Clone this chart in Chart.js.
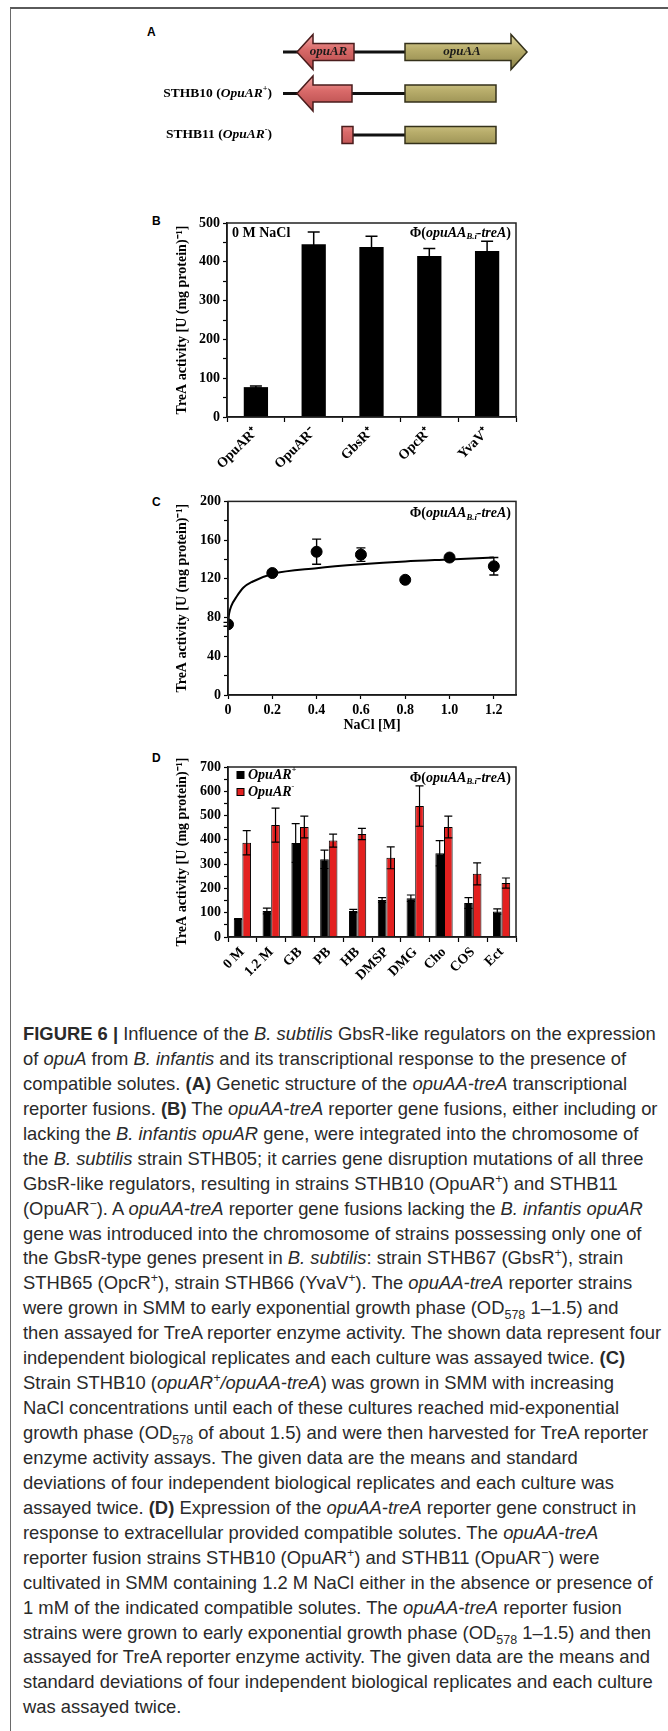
<!DOCTYPE html>
<html>
<head>
<meta charset="utf-8">
<script src="https://cdn.jsdelivr.net/npm/chart.js@4.4.0/dist/chart.umd.min.js"></script>
<style>
body { margin: 0; background: #fff; }
#page { position: relative; width: 668px; height: 1731px; overflow: hidden; background: #fff; }
#frame { position: absolute; left: 10px; top: 7px; right: 0; bottom: 0; border-top: 2px solid #5a5a5a; border-left: 1px solid #6a6a6a; }
.letter { position: absolute; font: bold 12px "Liberation Sans", Arial, sans-serif; line-height: 14px; color: #000; }
.box { position: absolute; }
#caption { position: absolute; left: 23px; top: 1022px; font: 18.4px "Liberation Sans", Arial, sans-serif; line-height: 24.93px; color: #2a2a2a; white-space: nowrap; }
#caption sup, #caption sub { font-size: 0.68em; line-height: 0; }
</style>
</head>
<body>
<div id="page">
  <div id="frame"></div>

  <div class="letter" style="left:147px;top:25px">A</div>
  <div class="letter" style="left:152px;top:214px">B</div>
  <div class="letter" style="left:152px;top:495px">C</div>
  <div class="letter" style="left:152px;top:751px">D</div>

  <div class="box" style="left:130px;top:20px"><canvas id="genes" width="410" height="150"></canvas></div>
  <div class="box" style="left:160px;top:205px"><canvas id="strains" width="370" height="285"></canvas></div>
  <div class="box" style="left:160px;top:490px"><canvas id="nacl" width="370" height="250"></canvas></div>
  <div class="box" style="left:160px;top:755px"><canvas id="solutes" width="370" height="245"></canvas></div>

  <div id="caption">
<b>FIGURE 6 |</b> Influence of the <i>B. subtilis</i> GbsR-like regulators on the expression<br>
of <i>opuA</i> from <i>B. infantis</i> and its transcriptional response to the presence of<br>
compatible solutes. <b>(A)</b> Genetic structure of the <i>opuAA-treA</i> transcriptional<br>
reporter fusions. <b>(B)</b> The <i>opuAA-treA</i> reporter gene fusions, either including or<br>
lacking the <i>B. infantis opuAR</i> gene, were integrated into the chromosome of<br>
the <i>B. subtilis</i> strain STHB05; it carries gene disruption mutations of all three<br>
GbsR-like regulators, resulting in strains STHB10 (OpuAR<sup>+</sup>) and STHB11<br>
(OpuAR<sup>−</sup>). A <i>opuAA-treA</i> reporter gene fusions lacking the <i>B. infantis opuAR</i><br>
gene was introduced into the chromosome of strains possessing only one of<br>
the GbsR-type genes present in <i>B. subtilis</i>: strain STHB67 (GbsR<sup>+</sup>), strain<br>
STHB65 (OpcR<sup>+</sup>), strain STHB66 (YvaV<sup>+</sup>). The <i>opuAA-treA</i> reporter strains<br>
were grown in SMM to early exponential growth phase (OD<sub>578</sub> 1–1.5) and<br>
then assayed for TreA reporter enzyme activity. The shown data represent four<br>
independent biological replicates and each culture was assayed twice. <b>(C)</b><br>
Strain STHB10 (<i>opuAR<sup>+</sup>/opuAA-treA</i>) was grown in SMM with increasing<br>
NaCl concentrations until each of these cultures reached mid-exponential<br>
growth phase (OD<sub>578</sub> of about 1.5) and were then harvested for TreA reporter<br>
enzyme activity assays. The given data are the means and standard<br>
deviations of four independent biological replicates and each culture was<br>
assayed twice. <b>(D)</b> Expression of the <i>opuAA-treA</i> reporter gene construct in<br>
response to extracellular provided compatible solutes. The <i>opuAA-treA</i><br>
reporter fusion strains STHB10 (OpuAR<sup>+</sup>) and STHB11 (OpuAR<sup>−</sup>) were<br>
cultivated in SMM containing 1.2 M NaCl either in the absence or presence of<br>
1 mM of the indicated compatible solutes. The <i>opuAA-treA</i> reporter fusion<br>
strains were grown to early exponential growth phase (OD<sub>578</sub> 1–1.5) and then<br>
assayed for TreA reporter enzyme activity. The given data are the means and<br>
standard deviations of four independent biological replicates and each culture<br>
was assayed twice.
  </div>
</div>

<script>
// panel A : gene map (arbitrary bp units)
const geneRows = ['wt', 'STHB10', 'STHB11'];
const rowNames = ['', 'STHB10', 'STHB11'];
const rowSigns = ['', '+', '-'];
const backboneSpan = [[0, 1220], [0, 1220], [700, 1220]];
const opuARspan = [[140, 710], [140, 690], [590, 700]];
const opuAAspan = [[1220, 2440], [1220, 2130], [1220, 2130]];
const opuARhead = [true, true, false];
const opuAAhead = [true, false, false];
const showGeneName = [true, false, false];

// panel B
const strainLabels = ['OpuAR⁺', 'OpuAR⁻', 'GbsR⁺', 'OpcR⁺', 'YvaV⁺'];
const strainActivity = [77, 445, 438, 415, 428];
const strainError = [3, 32, 28, 19, 25];

// panel C
const naclTicks = [0, 0.2, 0.4, 0.6, 0.8, 1.0, 1.2];
const naclConc = [0, 0.2, 0.4, 0.6, 0.8, 1.0, 1.2];
const naclActivity = [73, 126, 148, 145, 119, 142, 133];
const naclError = [2, 2, 13, 7, 1, 3, 9];
const fitConc = [0, 0.005, 0.015, 0.04, 0.07, 0.11, 0.2, 0.4, 0.6, 0.8, 1.0, 1.2];
const fitActivity = [73, 84, 92, 102, 111, 117, 125, 131, 135, 138, 140, 142];

// panel D
const soluteLabels = ['0 M', '1.2 M', 'GB', 'PB', 'HB', 'DMSP', 'DMG', 'Cho', 'COS', 'Ect'];
const plusActivity = [74, 107, 387, 320, 107, 152, 160, 345, 140, 105];
const plusError = [2, 12, 80, 38, 7, 10, 13, 52, 22, 11];
const minusActivity = [388, 461, 453, 397, 424, 326, 539, 453, 260, 222];
const minusError = [50, 70, 45, 27, 23, 45, 83, 45, 45, 21];

const SERIF = '"Liberation Serif", "Times New Roman", serif';
const yTitle = 'TreA activity [U (mg protein)⁻¹]';

// mixed bold / italic / sub / sup text
function richFont(p, size) {
    let s = (p.sub || p.sup) ? size * 0.62 : size;
    return (p.it ? 'italic ' : '') + 'bold ' + s + 'px ' + SERIF;
}
function drawRich(ctx, parts, x, y, size, align) {
    let total = 0;
    parts.forEach(p => {
        ctx.font = richFont(p, size);
        p.w = ctx.measureText(p.t).width;
        total += p.w;
    });
    let cx = align === 'right' ? x - total : x;
    ctx.textBaseline = 'middle';
    ctx.textAlign = 'left';
    parts.forEach(p => {
        ctx.font = richFont(p, size);
        let dy = p.sub ? size * 0.3 : (p.sup ? -size * 0.35 : 0);
        ctx.fillText(p.t, cx, y + dy);
        cx += p.w;
    });
}
const phiParts = () => [
    { t: 'Φ(' }, { t: 'opuAA', it: 1 }, { t: 'B.i', it: 1, sub: 1 }, { t: '-treA', it: 1 }, { t: ')' }
];

// frame around plot area
const framePlugin = {
    id: 'framePlugin',
    afterDraw(chart, args, opt) {
        if (!opt.show) return;
        const { ctx, chartArea: a } = chart;
        ctx.save();
        ctx.strokeStyle = '#222';
        ctx.lineWidth = 1.5;
        ctx.strokeRect(a.left, a.top, a.right - a.left, a.bottom - a.top);
        ctx.restore();
    }
};

// error bars, read from dataset.errors
const errorBars = {
    id: 'errorBars',
    afterDatasetsDraw(chart) {
        const ctx = chart.ctx;
        const yScale = chart.scales.y;
        chart.data.datasets.forEach((ds, di) => {
            if (!ds.errors) return;
            const meta = chart.getDatasetMeta(di);
            meta.data.forEach((el, i) => {
                const d = ds.data[i];
                const v = typeof d === 'object' ? d.y : d;
                const e = ds.errors[i];
                const x = el.x;
                const y1 = yScale.getPixelForValue(v + e);
                const y2 = yScale.getPixelForValue(v - e);
                const w = ds.capWidth / 2;
                ctx.save();
                ctx.strokeStyle = '#000';
                ctx.lineWidth = ds.errWidth || 1.3;
                ctx.beginPath();
                ctx.moveTo(x, y1); ctx.lineTo(x, y2);
                ctx.moveTo(x - w, y1); ctx.lineTo(x + w, y1);
                ctx.moveTo(x - w, y2); ctx.lineTo(x + w, y2);
                ctx.stroke();
                ctx.restore();
            });
        });
    }
};

// texts inside plot corners and legend
const cornerText = {
    id: 'cornerText',
    afterDraw(chart, args, opt) {
        if (!opt.show) return;
        const { ctx, chartArea: a } = chart;
        ctx.save();
        ctx.fillStyle = '#000';
        drawRich(ctx, phiParts(), a.right - 5, a.top + opt.dy, 14, 'right');
        if (opt.leftText) {
            drawRich(ctx, [{ t: opt.leftText }], a.left + 5, a.top + opt.dy, 14, 'left');
        }
        if (opt.legend) {
            chart.data.datasets.forEach((ds, i) => {
                const y = a.top + 8 + i * 17;
                ctx.fillStyle = ds.backgroundColor;
                ctx.fillRect(a.left + 9, y - 3.5, 7, 7);
                ctx.strokeStyle = '#000';
                ctx.lineWidth = 1;
                ctx.strokeRect(a.left + 9, y - 3.5, 7, 7);
                ctx.fillStyle = '#000';
                drawRich(ctx, [{ t: 'OpuAR', it: 1 }, { t: ds.sign, it: 1, sup: 1 }], a.left + 20, y, 14, 'left');
            });
        }
        ctx.restore();
    }
};

// gene arrows for panel A
function genePath(ctx, L, R, y, dir, head) {
    const bh = 8.5, hh = 17.5, hl = 16;
    ctx.beginPath();
    if (head && dir > 0) {
        ctx.moveTo(L, y - bh); ctx.lineTo(R - hl, y - bh); ctx.lineTo(R - hl, y - hh);
        ctx.lineTo(R, y); ctx.lineTo(R - hl, y + hh); ctx.lineTo(R - hl, y + bh); ctx.lineTo(L, y + bh);
    } else if (head && dir < 0) {
        ctx.moveTo(R, y - bh); ctx.lineTo(L + hl, y - bh); ctx.lineTo(L + hl, y - hh);
        ctx.lineTo(L, y); ctx.lineTo(L + hl, y + hh); ctx.lineTo(L + hl, y + bh); ctx.lineTo(R, y + bh);
    } else {
        ctx.rect(L, y - bh, R - L, bh * 2);
    }
    ctx.closePath();
}
const genePlugin = {
    id: 'genePlugin',
    afterDatasetsDraw(chart, args, opt) {
        if (!opt.show) return;
        const ctx = chart.ctx;
        chart.data.datasets.forEach((ds, di) => {
            if (!ds.geneDir) return;
            chart.getDatasetMeta(di).data.forEach((el, i) => {
                const L = Math.min(el.x, el.base), R = Math.max(el.x, el.base), y = el.y;
                const g = ctx.createLinearGradient(0, y - 17, 0, y + 17);
                g.addColorStop(0, ds.colors[0]);
                g.addColorStop(0.42, ds.colors[1]);
                g.addColorStop(1, ds.colors[2]);
                ctx.save();
                genePath(ctx, L, R, y, ds.geneDir, ds.heads[i]);
                ctx.fillStyle = g;
                ctx.fill();
                ctx.strokeStyle = ds.edge;
                ctx.lineWidth = 1.5;
                ctx.stroke();
                if (showGeneName[i]) {
                    ctx.fillStyle = '#1a1a1a';
                    ctx.font = 'italic bold 13px ' + SERIF;
                    ctx.textAlign = 'center';
                    ctx.textBaseline = 'middle';
                    ctx.fillText(ds.label, (L + R) / 2 + (ds.geneDir < 0 ? 3 : -4), y);
                }
                ctx.restore();
            });
        });
        // strain names
        const ys = chart.scales.y;
        ctx.save();
        ctx.fillStyle = '#000';
        rowNames.forEach((n, i) => {
            if (!n) return;
            drawRich(ctx, [{ t: n + ' (' }, { t: 'OpuAR', it: 1 }, { t: rowSigns[i], sup: 1 }, { t: ')' }],
                chart.chartArea.left - 11, ys.getPixelForValue(i), 13.5, 'right');
        });
        ctx.restore();
    }
};

Chart.register(framePlugin, errorBars, cornerText, genePlugin);
Chart.defaults.animation = false;
Chart.defaults.responsive = false;
Chart.defaults.color = '#000';

function valueAxis(max, step, labelEvery, width) {
    return {
        min: 0, max: max,
        ticks: {
            stepSize: step, autoSkip: false, padding: 3,
            font: { family: SERIF, size: 14, weight: 'bold' }, color: '#000',
            callback: (v) => (v % labelEvery === 0 ? v : '')
        },
        grid: { drawOnChartArea: false, color: '#000', tickLength: 4, tickWidth: 1.2 },
        border: { color: '#000', width: 1.5 },
        title: { display: true, text: yTitle, font: { family: SERIF, size: 14, weight: 'bold' }, color: '#000' },
        afterFit: (s) => { s.width = width; }
    };
}
function categoryAxis(height) {
    return {
        ticks: {
            maxRotation: 45, minRotation: 45, autoSkip: false, padding: 2,
            font: { family: SERIF, size: 14, weight: 'bold' }, color: '#000'
        },
        grid: { drawOnChartArea: false, color: '#000', tickLength: 5, tickWidth: 1.2, offset: true },
        border: { color: '#000', width: 1.5 },
        afterFit: (s) => { s.height = height; }
    };
}

// 패널 A
function geneMap() {
    new Chart(document.getElementById('genes'), {
        type: 'bar',
        data: {
            labels: geneRows,
            datasets: [
                { label: 'backbone', data: backboneSpan, backgroundColor: '#111', barThickness: 2.5, grouped: false },
                {
                    label: 'opuAR', data: opuARspan, backgroundColor: 'rgba(0,0,0,0)', barThickness: 17, grouped: false,
                    geneDir: -1, heads: opuARhead, colors: ['#f3a4a2', '#d96a69', '#b3494a'], edge: '#4a1c1c'
                },
                {
                    label: 'opuAA', data: opuAAspan, backgroundColor: 'rgba(0,0,0,0)', barThickness: 17, grouped: false,
                    geneDir: 1, heads: opuAAhead, colors: ['#dcd39a', '#b8ad6b', '#8d8449'], edge: '#34311a'
                }
            ]
        },
        options: {
            indexAxis: 'y',
            layout: { padding: { left: 153, right: 13, top: 11.25, bottom: 14.25 } },
            scales: {
                x: { type: 'linear', min: 0, max: 2440, display: false },
                y: { display: false, offset: true }
            },
            plugins: { legend: { display: false }, tooltip: { enabled: false }, genePlugin: { show: true } }
        }
    });
}

// 패널 B
function strainChart() {
    new Chart(document.getElementById('strains'), {
        type: 'bar',
        data: {
            labels: strainLabels,
            datasets: [{
                data: strainActivity, errors: strainError, capWidth: 12, errWidth: 1.5,
                backgroundColor: '#000', categoryPercentage: 0.42, barPercentage: 1
            }]
        },
        options: {
            layout: { padding: { left: 10, right: 14, top: 18, bottom: 0 } },
            scales: { x: categoryAxis(73), y: valueAxis(500, 50, 100, 57) },
            plugins: {
                legend: { display: false }, tooltip: { enabled: false },
                framePlugin: { show: true }, cornerText: { show: true, dy: 10, leftText: '0 M NaCl' }
            }
        }
    });
}

// 패널 C
function naclChart() {
    new Chart(document.getElementById('nacl'), {
        type: 'scatter',
        data: {
            datasets: [
                {
                    data: naclConc.map((x, i) => ({ x: x, y: naclActivity[i] })),
                    errors: naclError, capWidth: 9, errWidth: 1.4,
                    pointRadius: 5.5, pointBackgroundColor: '#000', pointBorderColor: '#000'
                },
                {
                    type: 'line',
                    data: fitConc.map((x, i) => ({ x: x, y: fitActivity[i] })),
                    borderColor: '#000', borderWidth: 2, pointRadius: 0, cubicInterpolationMode: 'monotone'
                }
            ]
        },
        options: {
            layout: { padding: { left: 10, right: 14, top: 10, bottom: 0 } },
            scales: {
                x: {
                    type: 'linear', min: 0, max: 1.3,
                    ticks: {
                        padding: 3,
                        font: { family: SERIF, size: 14, weight: 'bold' }, color: '#000',
                        callback: (v) => (v === 0 ? '0' : v.toFixed(1))
                    },
                    afterBuildTicks: (s) => { s.ticks = naclTicks.map(v => ({ value: v })); },
                    grid: { drawOnChartArea: false, color: '#000', tickLength: 4, tickWidth: 1.2 },
                    border: { color: '#000', width: 1.5 },
                    title: {
                        display: true, text: 'NaCl [M]', padding: { top: 0, bottom: 6.5 },
                        font: { family: SERIF, size: 14, weight: 'bold' }, color: '#000'
                    },
                    afterFit: (s) => { s.height = 45; }
                },
                y: valueAxis(200, 20, 40, 58)
            },
            plugins: {
                legend: { display: false }, tooltip: { enabled: false },
                framePlugin: { show: true }, cornerText: { show: true, dy: 12 }
            }
        }
    });
}

// 패널 D
function soluteChart() {
    new Chart(document.getElementById('solutes'), {
        type: 'bar',
        data: {
            labels: soluteLabels,
            datasets: [
                {
                    label: 'OpuAR+', sign: '+', data: plusActivity, errors: plusError, capWidth: 8, errWidth: 1.2,
                    backgroundColor: '#000', borderColor: '#000', borderWidth: 1,
                    categoryPercentage: 0.6, barPercentage: 1
                },
                {
                    label: 'OpuAR-', sign: '-', data: minusActivity, errors: minusError, capWidth: 8, errWidth: 1.2,
                    backgroundColor: '#e3201f', borderColor: '#000', borderWidth: 1,
                    categoryPercentage: 0.6, barPercentage: 1
                }
            ]
        },
        options: {
            layout: { padding: { left: 10, right: 14, top: 12, bottom: 0 } },
            scales: { x: categoryAxis(63), y: valueAxis(700, 50, 100, 58) },
            plugins: {
                legend: { display: false }, tooltip: { enabled: false },
                framePlugin: { show: true }, cornerText: { show: true, dy: 11, legend: true }
            }
        }
    });
}

(() => {
    geneMap();
    strainChart();
    naclChart();
    soluteChart();
})()
</script>
</body>
</html>
